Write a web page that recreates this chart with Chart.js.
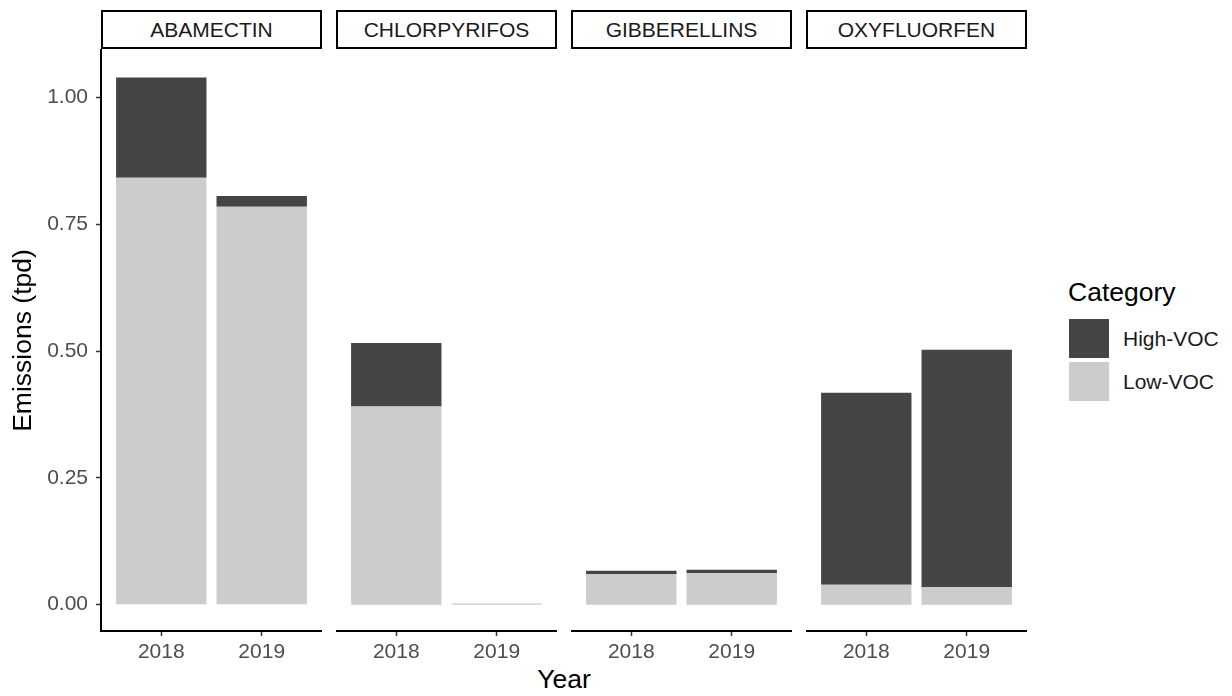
<!DOCTYPE html>
<html>
<head>
<meta charset="utf-8">
<title>Emissions by active ingredient</title>
<script src="https://cdn.jsdelivr.net/npm/chart.js@4/dist/chart.umd.min.js"></script>
<style>
  body { margin: 0; background: #fff; font-family: "Liberation Sans", Arial, sans-serif; }
  #wrap { position: relative; width: 1232px; height: 696px; overflow: hidden; }
  canvas { position: absolute; top: 0; }
  .strip {
    position: absolute; top: 10px; height: 39px; box-sizing: border-box;
    border: 2px solid #000; background: #fff; color: #1a1a1a;
    font-size: 21px; line-height: 35px; text-align: center;
  }
  #xtitle { position: absolute; left: 464px; width: 200px; top: 664px; text-align: center; font-size: 26.5px; color: #000; }
  #legend { position: absolute; left: 1068px; top: 277px; }
  #legend .ttl { font-size: 26.5px; color: #000; height: 42px; }
  #legend .row { height: 43px; position: relative; }
  #legend .key { position: absolute; left: 1px; top: 0; width: 40px; height: 39px; }
  #legend .lab { position: absolute; left: 55px; top: 8px; font-size: 21px; color: #1a1a1a; white-space: nowrap; }
</style>
</head>
<body>
<div id="wrap">
  <div id="xtitle">Year</div>
  <div id="legend"></div>
</div>
<script>
// panels (facets) and x categories
var ingredients = ['ABAMECTIN', 'CHLORPYRIFOS', 'GIBBERELLINS', 'OXYFLUORFEN'];
var years = ['2018', '2019'];

// emissions in tpd, one [2018, 2019] pair per ingredient
var lowVoc  = [[0.842, 0.785], [0.391, 0.002], [0.060, 0.062], [0.039, 0.035]];
var highVoc = [[0.198, 0.021], [0.125, 0.000], [0.007, 0.007], [0.379, 0.468]];

var yTicks = [0, 0.25, 0.5, 0.75, 1.0];

var colors = { 'Low-VOC': '#cccccc', 'High-VOC': '#454545' };

var wrap = document.getElementById('wrap');
var panelLeft = 101, panelWidth = 221, panelGap = 14;
var axisW = 101;

ingredients.forEach(function(name, p) {
	var left = panelLeft + p * (panelWidth + panelGap);
	var first = (p === 0);

	// strip label above each panel
	var strip = document.createElement('div');
	strip.className = 'strip';
	strip.style.left = left + 'px';
	strip.style.width = panelWidth + 'px';
	strip.textContent = name;
	wrap.appendChild(strip);

	var canvas = document.createElement('canvas');
	canvas.width = first ? left + panelWidth : panelWidth;
	canvas.height = 696;
	canvas.style.left = (first ? 0 : left) + 'px';
	wrap.appendChild(canvas);

	// x positions 1 and 2, so the axis can be padded like a discrete ggplot scale
	function pts(arr) {
		return arr.map(function(v, i) { return { x: i + 1, y: v }; });
	}

	var chartdata = {
		datasets: [
			{ label: 'Low-VOC', data: pts(lowVoc[p]), backgroundColor: colors['Low-VOC'], borderWidth: 0 },
			{ label: 'High-VOC', data: pts(highVoc[p]), backgroundColor: colors['High-VOC'], borderWidth: 0 }
		]
	};

	new Chart(canvas.getContext('2d'), {
		type: 'bar',
		data: chartdata,
		options: {
			responsive: false,
			animation: false,
			categoryPercentage: 1.0,
			barPercentage: 0.9,
			layout: { padding: { top: 50, left: 0, right: 0, bottom: 0 } },
			plugins: { legend: { display: false }, tooltip: { enabled: false } },
			scales: {
				x: {
					type: 'linear',
					stacked: true,
					offset: false,
					min: 0.4,
					max: 2.6,
					afterBuildTicks: function(s) { s.ticks = years.map(function(y, i) { return { value: i + 1 }; }); },
					afterFit: function(s) { s.height = 65; },
					ticks: {
						callback: function(v) { return years[v - 1]; },
						color: '#4d4d4d',
						font: { size: 21, family: 'Liberation Sans' },
						padding: 4,
						maxRotation: 0
					},
					grid: { offset: false, drawOnChartArea: false, tickLength: 5, tickColor: '#333333', tickWidth: 1.5 },
					border: { color: '#000', width: 2 }
				},
				y: {
					display: first,
					stacked: true,
					min: -0.052,
					max: 1.094,
					afterBuildTicks: function(s) { s.ticks = yTicks.map(function(v) { return { value: v }; }); },
					afterFit: function(s) { if (first) s.width = axisW; },
					ticks: {
						callback: function(v) { return v.toFixed(2); },
						color: '#4d4d4d',
						font: { size: 21, family: 'Liberation Sans' },
						padding: 8
					},
					grid: { drawOnChartArea: false, tickLength: 5, tickColor: '#333333', tickWidth: 1.5 },
					border: { color: '#000', width: 2 },
					title: {
						display: true,
						text: 'Emissions (tpd)',
						color: '#000',
						font: { size: 26.5, family: 'Liberation Sans' },
						padding: { top: 8, bottom: 0 }
					}
				}
			}
		}
	});
});

// legend: High-VOC listed first, as in the fill scale
var legend = document.getElementById('legend');
var html = '<div class="ttl">Category</div>';
['High-VOC', 'Low-VOC'].forEach(function(c) {
	html += '<div class="row"><div class="key" style="background:' + colors[c] + '"></div>' +
		'<div class="lab">' + c + '</div></div>';
});
legend.innerHTML = html;
</script>
</body>
</html>
